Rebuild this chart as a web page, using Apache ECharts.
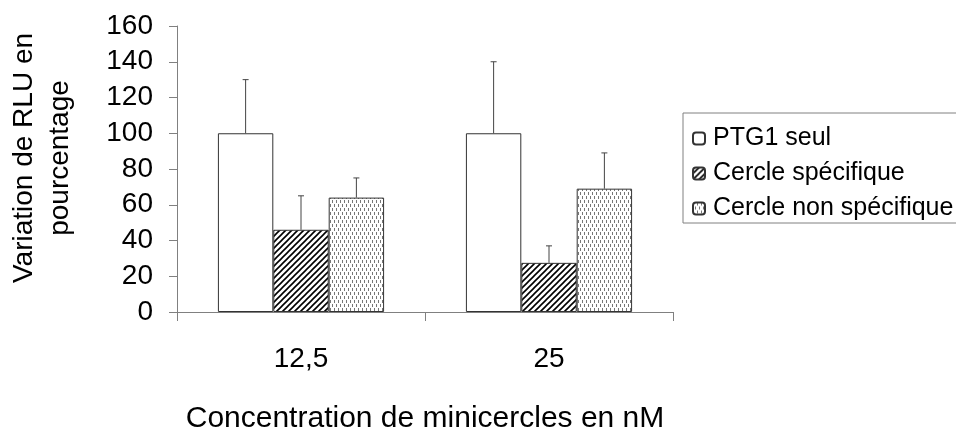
<!DOCTYPE html>
<html>
<head>
<meta charset="utf-8">
<script src="https://cdn.jsdelivr.net/npm/echarts@6/dist/echarts.min.js"></script>
<style>html,body{margin:0;padding:0;background:#fff}#c{width:956px;height:444px}</style>
</head>
<body>
<div id="c"></div>
<script>
const categories = ['12,5', '25'];
const seriesNames = ['PTG1 seul', 'Cercle spécifique', 'Cercle non spécifique'];
const ptg1Values = [100, 100];
const ptg1ErrTop = [130, 140];
const specValues = [46, 27.5];
const specErrTop = [65, 37];
const nonSpecValues = [64, 69];
const nonSpecErrTop = [75, 89];
const yTicks = [0, 20, 40, 60, 80, 100, 120, 140, 160];

function hatchPattern() {
  const c = document.createElement('canvas');
  c.width = 6; c.height = 6;
  const g = c.getContext('2d');
  g.fillStyle = '#fff'; g.fillRect(0, 0, 6, 6);
  g.strokeStyle = '#000'; g.lineWidth = 1.6;
  g.beginPath();
  g.moveTo(-1, 7); g.lineTo(7, -1);
  g.moveTo(-4, 4); g.lineTo(4, -4);
  g.moveTo(2, 10); g.lineTo(10, 2);
  g.stroke();
  return c;
}
function dotPattern() {
  const c = document.createElement('canvas');
  c.width = 4; c.height = 8;
  const g = c.getContext('2d');
  g.fillStyle = '#fff'; g.fillRect(0, 0, 4, 8);
  g.fillStyle = '#777';
  g.fillRect(0, 0, 1, 3);
  g.fillRect(2, 4, 1, 3);
  return c;
}

const FONT = 'Liberation Sans, Arial, sans-serif';
const fills = ['#ffffff', { image: hatchPattern(), repeat: 'repeat' }, { image: dotPattern(), repeat: 'repeat' }];
const valueSets = [ptg1Values, specValues, nonSpecValues];
const errSets = [ptg1ErrTop, specErrTop, nonSpecErrTop];
const CAT_GAP = 0.33;

const chart = echarts.init(document.getElementById('c'));
const series = [];
valueSets.forEach((vals, i) => {
  series.push({
    name: seriesNames[i], type: 'bar', data: vals,
    barGap: '0%', barCategoryGap: (CAT_GAP * 100) + '%',
    itemStyle: { color: fills[i], borderColor: '#333', borderWidth: 1 },
    emphasis: { disabled: true }, z: 2
  });
});
valueSets.forEach((vals, i) => {
  series.push({
    type: 'custom', name: 'err' + i, z: 3,
    data: vals.map((v, k) => [k, v, errSets[i][k]]),
    renderItem: function (params, api) {
      const k = api.value(0);
      const base = api.coord([k, api.value(1)]);
      const top = api.coord([k, api.value(2)]);
      const band = api.size([1, 0])[0];
      const bw = band * (1 - CAT_GAP) / 3;
      const x = base[0] + (i - 1) * bw;
      const cap = 3;
      return {
        type: 'group', children: [
          { type: 'line', shape: { x1: x, y1: base[1], x2: x, y2: top[1] }, style: { stroke: '#444', lineWidth: 1 } },
          { type: 'line', shape: { x1: x - cap, y1: top[1], x2: x + cap, y2: top[1] }, style: { stroke: '#444', lineWidth: 1 } }
        ]
      };
    }
  });
});

chart.setOption({
  animation: false,
  backgroundColor: '#fff',
  textStyle: { fontFamily: FONT, color: '#000' },
  grid: { left: 177, right: 283, top: 26, bottom: 132, containLabel: false, outerBoundsMode: 'none' },
  legend: {
    data: seriesNames, orient: 'vertical', left: 683, top: 113,
    borderColor: '#808080', borderWidth: 1, padding: [13, 60, 2, 9],
    itemGap: 10, itemWidth: 12, itemHeight: 12,
    textStyle: { fontSize: 25, color: '#000', fontFamily: FONT, padding: [0, 0, 0, 3] },
    selectedMode: false
  },
  xAxis: {
    type: 'category', data: categories,
    axisLine: { lineStyle: { color: '#808080' } },
    axisTick: { show: true, alignWithLabel: false, length: 9, lineStyle: { color: '#808080' } },
    axisLabel: { fontSize: 28, color: '#000', margin: 33 },
    name: 'Concentration de minicercles en nM', nameLocation: 'middle', nameGap: 92,
    nameTextStyle: { fontSize: 30, color: '#000' }
  },
  yAxis: {
    type: 'value', min: yTicks[0], max: yTicks[yTicks.length - 1], interval: 20,
    axisLine: { show: true, lineStyle: { color: '#808080' } },
    axisTick: { show: true, length: 8, lineStyle: { color: '#808080' } },
    splitLine: { show: false },
    axisLabel: { fontSize: 28, color: '#000', margin: 24 },
    name: 'Variation de RLU en\npourcentage', nameLocation: 'middle', nameRotate: 90, nameGap: 99,
    nameTextStyle: { fontSize: 28, color: '#000', lineHeight: 36, padding: [0, 0, 0, 22] }
  },
  series: series
});
</script>
</body>
</html>
